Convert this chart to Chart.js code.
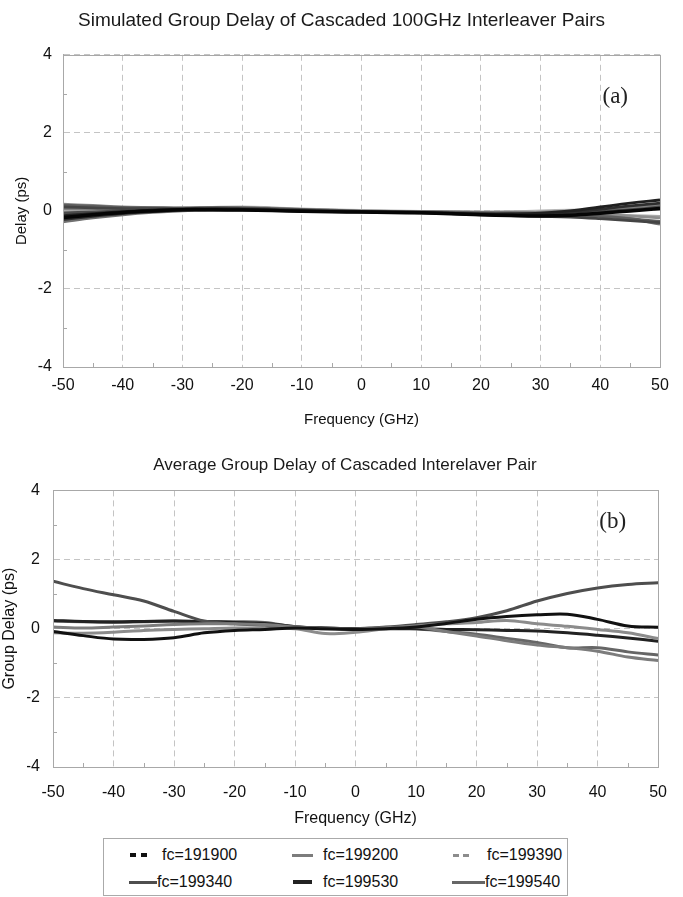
<!DOCTYPE html>
<html>
<head>
<meta charset="utf-8">
<script src="https://cdn.jsdelivr.net/npm/chart.js@4.4.1/dist/chart.umd.min.js"></script>
<style>
  body { margin: 0; background: #fff; font-family: "Liberation Sans", Arial, sans-serif; }
  #page { position: relative; width: 683px; height: 897px; overflow: hidden; }
  .wrap { position: absolute; left: 0; width: 683px; }
  #legend { position: absolute; left: 103px; top: 838px; width: 465px; height: 58px; border: 1px solid #aaa; box-sizing: border-box; }
  .lg-text { position: absolute; font-size: 16px; color: #111; line-height: 18px; white-space: nowrap; }
  .lg-line { position: absolute; height: 0; }
</style>
</head>
<body>
<div id="page">
  <div class="wrap" style="top:0;height:440px"><canvas id="chartA"></canvas></div>
  <div class="wrap" style="top:420px;height:410px"><canvas id="chartB"></canvas></div>
  <div id="legend"></div>
</div>
<script>
// frequency points (GHz)
const freqs = [-50, -45, -40, -35, -30, -25, -20, -15, -10, -5, 0, 5, 10, 15, 20, 25, 30, 35, 40, 45, 50];
const xTickLabels = [-50, -40, -30, -20, -10, 0, 10, 20, 30, 40, 50];
const yTickLabels = [-4, -2, 0, 2, 4];

// (a) simulated group delay, one row per simulated pair (ps)
const simDelay = [
  [-0.17, -0.10, -0.04, 0.00, 0.03, 0.03, 0.02, 0.01, -0.01, -0.02, -0.03, -0.04, -0.05, -0.07, -0.10, -0.12, -0.13, -0.11, -0.06, 0.00, 0.06],
  [-0.12, -0.07, -0.02, 0.02, 0.04, 0.05, 0.04, 0.02, 0.00, -0.01, -0.02, -0.03, -0.04, -0.06, -0.08, -0.08, -0.06, 0.00, 0.10, 0.20, 0.28],
  [-0.22, -0.14, -0.07, -0.02, 0.02, 0.03, 0.03, 0.02, 0.00, -0.02, -0.03, -0.04, -0.05, -0.07, -0.09, -0.10, -0.09, -0.04, 0.04, 0.13, 0.20],
  [0.10, 0.08, 0.06, 0.06, 0.06, 0.07, 0.06, 0.04, 0.02, 0.00, -0.02, -0.03, -0.05, -0.07, -0.10, -0.12, -0.14, -0.16, -0.20, -0.25, -0.30],
  [-0.05, -0.03, 0.00, 0.02, 0.04, 0.05, 0.05, 0.04, 0.02, 0.00, -0.01, -0.02, -0.03, -0.05, -0.07, -0.08, -0.08, -0.06, -0.02, 0.03, 0.10],
  [0.15, 0.12, 0.09, 0.08, 0.07, 0.08, 0.08, 0.06, 0.03, 0.01, -0.01, -0.02, -0.03, -0.04, -0.05, -0.06, -0.07, -0.10, -0.14, -0.20, -0.27],
  [-0.28, -0.18, -0.10, -0.04, 0.00, 0.02, 0.03, 0.02, 0.00, -0.01, -0.02, -0.03, -0.04, -0.05, -0.06, -0.07, -0.08, -0.10, -0.13, -0.20, -0.34],
  [0.05, 0.04, 0.04, 0.05, 0.06, 0.07, 0.07, 0.05, 0.03, 0.01, -0.01, -0.02, -0.02, -0.03, -0.04, -0.04, -0.03, 0.00, 0.04, 0.10, 0.15],
  [0.17, 0.14, 0.10, 0.09, 0.08, 0.09, 0.09, 0.07, 0.04, 0.02, 0.00, -0.01, -0.02, -0.02, -0.03, -0.03, -0.04, -0.06, -0.09, -0.13, -0.18],
  [-0.08, -0.05, -0.02, 0.01, 0.03, 0.05, 0.06, 0.05, 0.03, 0.01, -0.01, -0.02, -0.03, -0.04, -0.05, -0.06, -0.05, -0.03, 0.00, 0.05, 0.08],
  [0.12, 0.10, 0.08, 0.07, 0.07, 0.08, 0.08, 0.06, 0.04, 0.02, 0.00, -0.01, -0.02, -0.03, -0.04, -0.05, -0.06, -0.08, -0.10, -0.12, -0.14],
  [0.00, 0.01, 0.03, 0.05, 0.07, 0.09, 0.10, 0.08, 0.05, 0.03, 0.01, 0.00, -0.01, -0.02, -0.03, -0.02, 0.00, 0.02, 0.04, 0.06, 0.05]
];
const simShades = ['#050505', '#202020', '#2e2e2e', '#444', '#4a4a4a', '#5e5e5e', '#707070', '#808080', '#8e8e8e', '#9c9c9c', '#aaa', '#b8b8b8'];

// (b) average group delay per centre frequency (ps)
const avgLabels = ['fc=191900', 'fc=199200', 'fc=199390', 'fc=199340', 'fc=199530', 'fc=199540'];
const fc191900 = [-0.08, -0.20, -0.30, -0.31, -0.26, -0.12, -0.05, -0.02, 0.02, 0.00, -0.02, 0.00, 0.05, 0.15, 0.27, 0.35, 0.40, 0.42, 0.27, 0.08, 0.04];
const fc199200 = [0.05, 0.02, 0.05, 0.08, 0.12, 0.14, 0.14, 0.12, 0.05, 0.00, -0.02, 0.03, 0.05, -0.08, -0.21, -0.35, -0.47, -0.55, -0.65, -0.82, -0.92];
const fc199390 = [-0.12, -0.13, -0.10, -0.05, -0.02, 0.00, 0.02, 0.02, 0.00, -0.14, -0.10, 0.00, 0.08, 0.14, 0.18, 0.24, 0.14, 0.07, -0.02, -0.12, -0.28];
const fc199340 = [1.37, 1.16, 0.98, 0.80, 0.50, 0.22, 0.14, 0.10, 0.05, 0.02, 0.00, 0.05, 0.12, 0.20, 0.32, 0.52, 0.80, 1.02, 1.18, 1.28, 1.33];
const fc199530 = [0.24, 0.21, 0.20, 0.21, 0.22, 0.20, 0.18, 0.15, 0.06, 0.02, 0.00, 0.00, 0.00, -0.02, -0.03, -0.05, -0.07, -0.12, -0.19, -0.27, -0.36];
const fc199540 = [0.22, 0.20, 0.18, 0.20, 0.22, 0.21, 0.20, 0.18, 0.05, 0.00, 0.00, 0.02, 0.00, -0.08, -0.16, -0.28, -0.40, -0.55, -0.55, -0.67, -0.76];
const avgSeries = [fc191900, fc199200, fc199390, fc199340, fc199530, fc199540];
const avgColors = ['#111', '#7c7c7c', '#8c8c8c', '#4e4e4e', '#222', '#666'];

Chart.defaults.font.family = '"Liberation Sans", Arial, sans-serif';
Chart.defaults.color = '#111';

const toPoints = (ys) => ys.map((v, i) => ({x: freqs[i], y: v}));

// box around the plot, small inside ticks, panel tag
const framePlugin = {
  id: 'frame',
  afterDraw(chart, args, opts) {
    const {ctx, chartArea: a, scales} = chart;
    ctx.save();
    ctx.strokeStyle = '#a8a8a8';
    ctx.lineWidth = 1;
    ctx.beginPath();
    scales.x.ticks.forEach(t => {
      if (xTickLabels.includes(t.value)) return;
      const px = Math.round(scales.x.getPixelForValue(t.value)) + 0.5;
      ctx.moveTo(px, a.bottom);
      ctx.lineTo(px, a.bottom - 4);
    });
    scales.y.ticks.forEach(t => {
      if (yTickLabels.includes(t.value)) return;
      const py = Math.round(scales.y.getPixelForValue(t.value)) + 0.5;
      ctx.moveTo(a.left, py);
      ctx.lineTo(a.left + 4, py);
    });
    ctx.stroke();
    ctx.strokeRect(Math.round(a.left) + 0.5, Math.round(a.top) + 0.5, Math.round(a.width), Math.round(a.height));
    ctx.fillStyle = '#222';
    ctx.font = '23px "Liberation Serif", "DejaVu Serif", serif';
    ctx.textAlign = 'right';
    ctx.textBaseline = 'alphabetic';
    ctx.fillText(opts.tag, a.right - opts.dx, a.top + opts.dy);
    ctx.restore();
  }
};

function makeScales(o) {
  return {
    x: {
      type: 'linear', min: -50, max: 50,
      afterFit: s => { s.height = o.xHeight; },
      ticks: {
        stepSize: 5, autoSkip: false, maxRotation: 0, padding: o.xPad,
        font: {size: o.tickSize}, color: '#111',
        callback: v => xTickLabels.includes(v) ? String(v) : ''
      },
      grid: {
        drawTicks: false,
        color: c => (xTickLabels.includes(c.tick.value) ? '#c4c4c4' : 'rgba(0,0,0,0)'),
        lineWidth: 1
      },
      border: {color: '#a8a8a8', dash: [6, 4]},
      title: {display: true, text: 'Frequency (GHz)', font: {size: o.titleSize}, color: '#111', padding: {top: 0, bottom: o.xTitlePad}}
    },
    y: {
      min: -4, max: 4,
      afterFit: s => { s.width = o.yWidth; },
      ticks: {
        stepSize: 1, autoSkip: false, padding: o.yPad,
        font: {size: o.tickSize}, color: '#111',
        callback: v => yTickLabels.includes(v) ? String(v) : ''
      },
      grid: {
        drawTicks: false,
        color: c => (yTickLabels.includes(c.tick.value) ? '#c4c4c4' : 'rgba(0,0,0,0)'),
        lineWidth: 1
      },
      border: {color: '#a8a8a8', dash: [6, 4]},
      title: {display: true, text: o.yTitle, font: {size: o.titleSize}, color: '#111', padding: {top: o.yTitlePad, bottom: 0}}
    }
  };
}

// chart (a): darkest trace first so it is drawn on top
new Chart(document.getElementById('chartA'), {
  type: 'line',
  data: {
    datasets: simDelay.map((row, i) => ({
      data: toPoints(row),
      borderColor: simShades[i],
      borderWidth: i === 0 ? 3.5 : 2.8,
      pointRadius: 0,
      tension: 0.4,
      fill: false
    }))
  },
  options: {
    responsive: true, maintainAspectRatio: false, animation: false,
    layout: {padding: {left: 23, right: 23, top: 0, bottom: 0}},
    plugins: {
      legend: {display: false},
      tooltip: {enabled: false},
      title: {display: true, text: 'Simulated Group Delay of Cascaded 100GHz Interleaver Pairs',
        font: {size: 19, weight: 'normal'}, color: '#1a1a1a', padding: {top: 9, bottom: 23}},
      frame: {tag: '(a)', dx: 32, dy: 48}
    },
    scales: makeScales({xHeight: 73, yWidth: 40, tickSize: 16, titleSize: 15, xPad: 9, yPad: 11, xTitlePad: 11, yTitlePad: -10, yTitle: 'Delay (ps)'})
  },
  plugins: [framePlugin]
});

// chart (b)
new Chart(document.getElementById('chartB'), {
  type: 'line',
  data: {
    datasets: avgSeries.map((row, i) => ({
      label: avgLabels[i],
      data: toPoints(row),
      borderColor: avgColors[i],
      borderWidth: 3,
      pointRadius: 0,
      tension: 0.35,
      fill: false
    }))
  },
  options: {
    responsive: true, maintainAspectRatio: false, animation: false,
    layout: {padding: {left: 27, right: 20, top: 0, bottom: 0}},
    plugins: {
      legend: {display: false},
      tooltip: {enabled: false},
      title: {display: true, text: 'Average Group Delay of Cascaded Interelaver Pair',
        font: {size: 17, weight: 'normal'}, color: '#1a1a1a', padding: {top: 35, bottom: 15}},
      frame: {tag: '(b)', dx: 32, dy: 38}
    },
    scales: makeScales({xHeight: 63, yWidth: 26, tickSize: 16, titleSize: 16, xPad: 16, yPad: 13, xTitlePad: 2, yTitlePad: -27, yTitle: 'Group Delay (ps)'})
  },
  plugins: [framePlugin]
});

// legend box under chart (b); dashed samples are drawn as separate segments
const legendLayout = [
  {row: 0, segs: [[26, 6], [37, 6]], tx: 58, w: 4},
  {row: 0, segs: [[188, 21]], tx: 219, w: 3},
  {row: 0, segs: [[349, 6], [359, 6]], tx: 383, w: 3},
  {row: 1, segs: [[25, 28]], tx: 53, w: 3},
  {row: 1, segs: [[189, 19]], tx: 219, w: 4},
  {row: 1, segs: [[348, 33]], tx: 381, w: 3}
];
const legendEl = document.getElementById('legend');
avgLabels.forEach((lab, i) => {
  const L = legendLayout[i];
  const cy = L.row === 0 ? 16 : 43;
  L.segs.forEach(([sx, sw]) => {
    const line = document.createElement('div');
    line.className = 'lg-line';
    line.style.left = sx + 'px';
    line.style.top = (cy - L.w / 2) + 'px';
    line.style.width = sw + 'px';
    line.style.borderTop = L.w + 'px solid ' + avgColors[i];
    legendEl.appendChild(line);
  });
  const txt = document.createElement('div');
  txt.className = 'lg-text';
  txt.style.left = L.tx + 'px';
  txt.style.top = (cy - 9) + 'px';
  txt.textContent = lab;
  legendEl.appendChild(txt);
});
</script>
</body>
</html>
